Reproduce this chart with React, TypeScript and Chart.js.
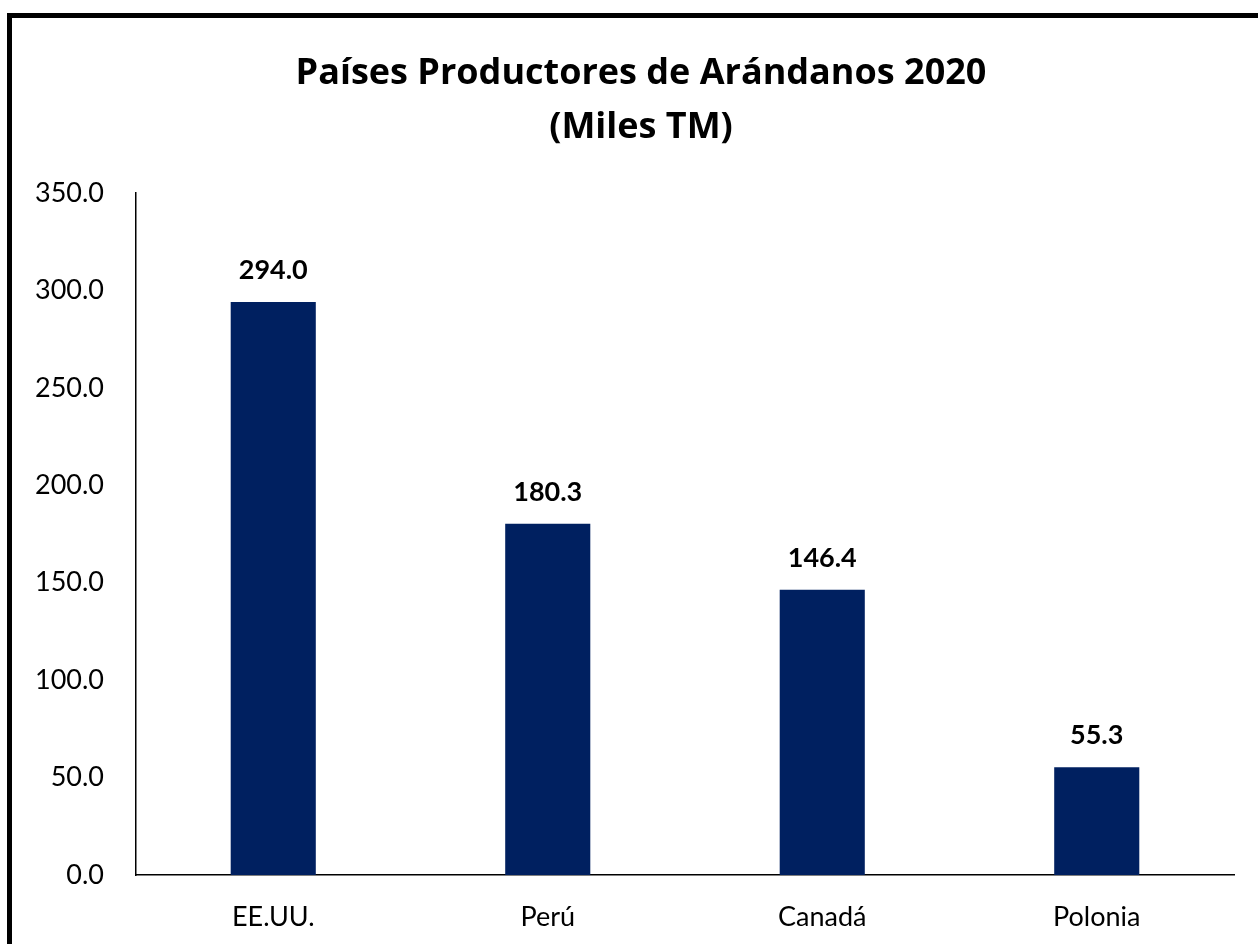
import React, { useEffect, useRef } from "react";
import { Chart, registerables } from "chart.js";

Chart.register(...registerables);

const categories = ["EE.UU.", "Perú", "Canadá", "Polonia"];
const values = [294.0, 180.3, 146.4, 55.3];
const titleLines = ["Países Productores de Arándanos 2020", "(Miles TM)"];
const yMin = 0;
const yMax = 350;
const yStep = 50;

const FONT = "Lato, 'Open Sans', sans-serif";
const TITLE_FONT = "'Open Sans', Lato, sans-serif";
const BAR_COLOR = "#002060";

const titlePlugin = {
  id: "customTitle",
  afterDraw(chart: any) {
    const ctx = chart.ctx;
    ctx.save();
    ctx.fillStyle = "#000";
    ctx.textAlign = "center";
    ctx.textBaseline = "alphabetic";
    ctx.font = `bold 36px ${TITLE_FONT}`;
    const cx = 641;
    ctx.fillText(titleLines[0], cx, 84);
    ctx.fillText(titleLines[1], cx, 138);
    ctx.restore();
  },
};

const labelPlugin = {
  id: "barLabels",
  afterDatasetsDraw(chart: any) {
    const ctx = chart.ctx;
    const meta = chart.getDatasetMeta(0);
    ctx.save();
    ctx.fillStyle = "#000";
    ctx.textAlign = "center";
    ctx.textBaseline = "alphabetic";
    ctx.font = `bold 27px ${FONT}`;
    meta.data.forEach((bar: any, i: number) => {
      const v = chart.data.datasets[0].data[i] as number;
      ctx.fillText(v.toFixed(1), bar.x, bar.y - 23);
    });
    ctx.restore();
  },
};

export default function App() {
  const ref = useRef<HTMLCanvasElement>(null);

  useEffect(() => {
    if (!ref.current) return;
    const chart = new Chart(ref.current, {
      type: "bar",
      data: {
        labels: categories,
        datasets: [
          {
            data: values,
            backgroundColor: BAR_COLOR,
            borderWidth: 0,
            categoryPercentage: 1,
            barPercentage: 0.31,
          },
        ],
      },
      options: {
        animation: false,
        responsive: false,
        maintainAspectRatio: false,
        layout: { padding: { top: 193, left: 0, right: 24, bottom: 0 } },
        plugins: {
          legend: { display: false },
          title: { display: false },
          tooltip: { enabled: false },
        },
        scales: {
          x: {
            grid: { display: false, drawTicks: false },
            border: { display: true, color: "#000", width: 1.5 },
            ticks: {
              color: "#000",
              font: { family: FONT, size: 27 },
              padding: 26,
            },
            afterFit(scale: any) {
              scale.height = 69;
            },
          },
          y: {
            min: yMin,
            max: yMax,
            grid: { display: false, drawTicks: false },
            border: { display: true, color: "#000", width: 1.5 },
            ticks: {
              stepSize: yStep,
              color: "#000",
              font: { family: FONT, size: 27 },
              padding: 32,
              callback: (v: any) => Number(v).toFixed(1),
            },
            afterFit(scale: any) {
              scale.width = 136;
            },
          },
        },
      },
      plugins: [titlePlugin, labelPlugin],
    });
    return () => chart.destroy();
  }, []);

  return (
    <div
      style={{
        position: "fixed",
        left: 0,
        top: 0,
        width: 1258,
        height: 944,
        overflow: "hidden",
        background: "#fff",
      }}
    >
      <canvas ref={ref} width={1258} height={944} style={{ position: "absolute", left: 0, top: 0 }} />
      <div
        style={{
          position: "absolute",
          left: 7,
          top: 13,
          width: 1400,
          height: 1100,
          border: "5px solid #000",
          boxSizing: "border-box",
          pointerEvents: "none",
        }}
      />
    </div>
  );
}
